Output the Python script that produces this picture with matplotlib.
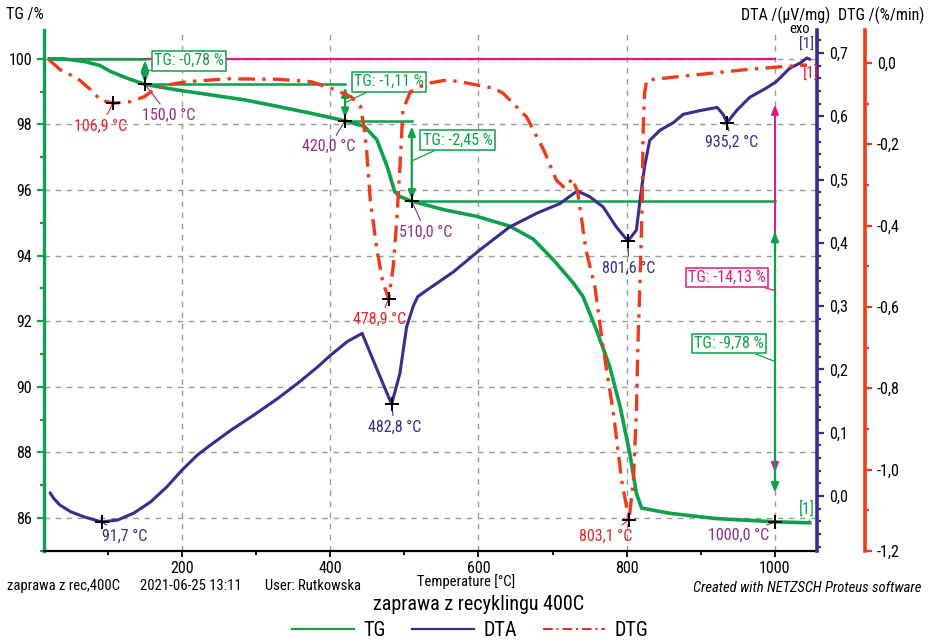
import numpy as np
import matplotlib
matplotlib.use("Agg")
import matplotlib.pyplot as plt
from matplotlib import font_manager
from matplotlib.ticker import MultipleLocator, FuncFormatter
from matplotlib.lines import Line2D

# ---------------- measured curves ----------------
tg_temp = [21, 40, 68, 89, 104, 126, 150, 194, 239, 284, 329, 374, 420, 446,
           463, 477, 487, 494, 510, 553, 597, 642, 674, 701, 728, 741, 759, 777,
           791, 804, 813, 820, 858, 920, 1000, 1047]
tg_mass = [100.0, 100.0, 99.92, 99.8, 99.61, 99.41, 99.22, 99.05, 98.9, 98.75,
           98.55, 98.34, 98.11, 97.94, 97.53, 96.7, 95.95, 95.8, 95.66, 95.4,
           95.2, 94.9, 94.5, 93.87, 93.16, 92.75, 91.74, 90.62, 89.4, 87.98,
           86.75, 86.3, 86.14, 85.98, 85.88, 85.85]

dta_temp = [22, 27, 35, 50, 68, 91.7, 113, 135, 158, 180, 200, 221, 239, 266,
            297, 329, 356, 383, 401, 423, 443, 456, 471, 482.8, 494, 503, 512,
            518, 530, 566, 602, 642, 679, 710, 733, 750, 768, 786, 801.6, 813,
            818, 824, 831, 845, 863, 876, 899, 922, 930, 935.2, 949, 966, 989,
            1002, 1020, 1034, 1043, 1047]
dta_signal = [0.005, -0.004, -0.014, -0.025, -0.033, -0.041, -0.038, -0.027,
              -0.009, 0.015, 0.041, 0.065, 0.081, 0.104, 0.128, 0.154, 0.178,
              0.204, 0.223, 0.244, 0.257, 0.22, 0.178, 0.145, 0.194, 0.267, 0.30,
              0.315, 0.325, 0.354, 0.389, 0.425, 0.447, 0.462, 0.482, 0.473,
              0.457, 0.425, 0.403, 0.42, 0.468, 0.52, 0.562, 0.578, 0.59, 0.603,
              0.609, 0.614, 0.603, 0.59, 0.61, 0.63, 0.645, 0.655, 0.676, 0.684,
              0.692, 0.69]

dtg_temp = [21, 36, 59, 77, 90, 106.9, 131, 149, 162, 180, 207, 261, 329, 374,
            401, 428, 441, 446, 449, 454, 463, 471, 478.9, 485, 490, 494, 498,
            508, 531, 557, 575, 620, 633, 665, 688, 705, 716, 727, 734, 745, 757,
            768, 782, 793, 803.1, 809, 813, 815, 818, 821, 822, 824, 827, 889,
            957, 1003, 1043]
dtg_rate = [0.007, -0.017, -0.038, -0.066, -0.091, -0.099, -0.095, -0.083,
            -0.066, -0.054, -0.046, -0.039, -0.04, -0.046, -0.062, -0.083, -0.107,
            -0.165, -0.214, -0.337, -0.46, -0.54, -0.58, -0.50, -0.379, -0.256,
            -0.116, -0.071, -0.05, -0.042, -0.046, -0.062, -0.074, -0.133, -0.214,
            -0.288, -0.307, -0.284, -0.32, -0.46, -0.55, -0.698, -0.861, -1.025,
            -1.124, -1.025, -0.861, -0.698, -0.53, -0.337, -0.172, -0.074, -0.042,
            -0.03, -0.017, -0.01, -0.005]

# mass-loss evaluation
tg_start = 100.0
step_temps = [150.0, 420.0, 510.0, 1000.0]
step_losses = [-0.78, -1.11, -2.45, -9.78]
total_loss = -14.13

# peak evaluation
dta_peaks = [91.7, 482.8, 801.6, 935.2]
dtg_peaks = [106.9, 478.9, 803.1]

# ---------------- style ----------------
GREEN = "#10A04C"
BLUE = "#3D2B8F"
RED = "#EE3B1D"
RED_TXT = "#E4232C"
MAGENTA = "#E0197F"
PURPLE = "#8C2D8C"

installed = {f.name for f in font_manager.fontManager.ttflist}
FONT = "DejaVu Sans"
for cand in ["Roboto Condensed", "Liberation Sans Narrow", "Roboto"]:
    if cand in installed:
        FONT = cand
        break
plt.rcParams["font.family"] = [FONT, "DejaVu Sans"]

W, H = 932, 642
fig = plt.figure(figsize=(W / 100, H / 100), dpi=100)


def fx(px):
    return px / W


def fy(py):
    return 1 - py / H


L, R, T, B = 44, 817, 30, 551
ax = fig.add_axes([fx(L), fy(B), (R - L) / W, (B - T) / H])
ax.set_xlim(13.8, 1056.7)
ax.set_ylim(84.99, 100.88)

comma = FuncFormatter(lambda v, p: f"{v:.1f}".replace(".", ",").replace("-0,0", "0,0"))

# grid
ax.set_xticks([200, 400, 600, 800, 1000])
ax.xaxis.set_minor_locator(MultipleLocator(100))
ax.set_yticks(np.arange(86, 101, 2))
ax.yaxis.set_minor_locator(MultipleLocator(1))
ax.grid(True, which="major", color="#9a9a9a", ls=(0, (4, 4)), lw=1.0)
ax.set_axisbelow(True)

for s in ["top", "right"]:
    ax.spines[s].set_visible(False)
ax.spines["left"].set_color(GREEN)
ax.spines["left"].set_linewidth(2.4)
ax.spines["bottom"].set_color("black")
ax.spines["bottom"].set_linewidth(1.6)
ax.tick_params(axis="y", which="both", colors=GREEN, labelcolor="black",
               labelsize=11.5, direction="out", width=1.6)
ax.tick_params(axis="y", which="major", length=5)
ax.tick_params(axis="y", which="minor", length=3)
ax.tick_params(axis="x", which="both", direction="out", width=1.3, labelsize=11.5)
ax.tick_params(axis="x", which="major", length=4, pad=3)
ax.tick_params(axis="x", which="minor", length=3)

# DTA axis
ax_dta = ax.twinx()
ax_dta.set_ylim(-0.0869, 0.7363)
ax_dta.yaxis.set_major_locator(MultipleLocator(0.1))
ax_dta.yaxis.set_minor_locator(MultipleLocator(0.02))
ax_dta.yaxis.set_major_formatter(comma)
for s in ["top", "left", "bottom"]:
    ax_dta.spines[s].set_visible(False)
ax_dta.spines["right"].set_color(BLUE)
ax_dta.spines["right"].set_linewidth(2.6)
ax_dta.tick_params(axis="y", which="both", colors=BLUE, labelcolor="black",
                   labelsize=11.5, width=1.6)
ax_dta.tick_params(axis="y", which="major", length=5)
ax_dta.tick_params(axis="y", which="minor", length=3)

# DTG axis
ax_dtg = ax.twinx()
ax_dtg.spines["right"].set_position(("axes", (865 - L) / (R - L)))
ax_dtg.set_ylim(-1.2, 0.0811)
ax_dtg.yaxis.set_major_locator(MultipleLocator(0.2))
ax_dtg.yaxis.set_minor_locator(MultipleLocator(0.1))
ax_dtg.yaxis.set_major_formatter(comma)
for s in ["top", "left", "bottom"]:
    ax_dtg.spines[s].set_visible(False)
ax_dtg.spines["right"].set_color(RED)
ax_dtg.spines["right"].set_linewidth(2.6)
ax_dtg.tick_params(axis="y", which="both", colors=RED, labelcolor="black",
                   labelsize=11.5, width=1.6)
ax_dtg.tick_params(axis="y", which="major", length=5)
ax_dtg.tick_params(axis="y", which="minor", length=3)

# ---------------- curves ----------------
ax_dta.plot(dta_temp, dta_signal, color=BLUE, lw=2.2, solid_capstyle="round",
            solid_joinstyle="round", zorder=3)
ax.plot(tg_temp, tg_mass, color=GREEN, lw=2.6, solid_joinstyle="round", zorder=3)
ax_dtg.plot(dtg_temp, dtg_rate, color=RED, lw=2.4, ls=(0, (5, 2.2, 1, 2.2)),
            zorder=4)

# ---------------- mass-loss steps ----------------
levels = [tg_start]
for d in step_losses:
    levels.append(round(levels[-1] + d, 2))

ax.plot([tg_temp[0], step_temps[-1]], [tg_start, tg_start], color=MAGENTA,
        lw=1.6, zorder=2)
starts = [tg_temp[0]] + step_temps[:-1]
for i, t in enumerate(step_temps):
    # level before the step, reaching over to the evaluation temperature
    ax.plot([starts[i], t], [levels[i], levels[i]], color=GREEN, lw=1.8, zorder=2.5)

shrinks = [(1, 1), (2, 2), (4, 1), (22, 21)]
box_offsets = [(44, 11), (44, 21), (46, 21), (-46, 18)]
for i, t in enumerate(step_temps):
    sa, sb = shrinks[i]
    ax.annotate("", xy=(t, levels[i + 1]), xytext=(t, levels[i]),
                arrowprops=dict(arrowstyle="<|-|>,head_length=0.55,head_width=0.22",
                                color=GREEN, lw=1.6, shrinkA=sa, shrinkB=sb),
                zorder=4)
    mid = (levels[i] + levels[i + 1]) / 2
    ax.annotate(f"TG: {step_losses[i]:.2f} %".replace(".", ","), xy=(t, mid),
                xytext=box_offsets[i], textcoords="offset pixels",
                ha="center", va="center", color=GREEN, fontsize=11.5,
                bbox=dict(boxstyle="square,pad=0.15", fc="white", ec=GREEN, lw=1.1),
                arrowprops=dict(arrowstyle="-", color=GREEN, lw=0.9,
                                shrinkA=0, shrinkB=0), zorder=6)

# total loss
t_end = step_temps[-1]
ax.annotate("", xy=(t_end, tg_start + total_loss), xytext=(t_end, tg_start),
            arrowprops=dict(arrowstyle="<|-|>,head_length=0.55,head_width=0.22",
                            color=MAGENTA, lw=1.4, shrinkA=33, shrinkB=36),
            zorder=3.5)
ax.annotate(f"TG: {total_loss:.2f} %".replace(".", ","),
            xy=(t_end, tg_start + total_loss / 2), xytext=(-48, 13),
            textcoords="offset pixels", ha="center", va="center", color=MAGENTA,
            fontsize=11.5,
            bbox=dict(boxstyle="square,pad=0.15", fc="white", ec=MAGENTA, lw=1.1),
            arrowprops=dict(arrowstyle="-", color=MAGENTA, lw=0.9,
                            shrinkA=0, shrinkB=0), zorder=6)

cross = dict(marker="+", ms=10, mew=1.4, color="black", ls="none", zorder=7)
step_label_offsets = [(24, -31), (-16, -26), (14, -31), (-36, -14)]
for i, t in enumerate(step_temps):
    ax.plot([t], [levels[i + 1]], **cross)
    ax.annotate(f"{t:.1f} °C".replace(".", ","), xy=(t, levels[i + 1]),
                xytext=step_label_offsets[i], textcoords="offset pixels",
                ha="center", va="center", color=PURPLE, fontsize=11.5,
                arrowprops=dict(arrowstyle="-", color=PURPLE, lw=0.8,
                                shrinkA=1, shrinkB=0), zorder=6)

# ---------------- peaks ----------------
dta_offsets = [(23, -14), (3, -23), (1, -27), (5, -20)]
for t, off in zip(dta_peaks, dta_offsets):
    yv = np.interp(t, dta_temp, dta_signal)
    ax_dta.plot([t], [yv], **cross)
    ax_dta.annotate(f"{t:.1f} °C".replace(".", ","), xy=(t, yv), xytext=off,
                    textcoords="offset pixels", ha="center", va="center",
                    color=BLUE, fontsize=11.5,
                    arrowprops=dict(arrowstyle="-", color=BLUE, lw=0.8,
                                    shrinkA=1, shrinkB=0), zorder=6)

dtg_offsets = [(-12, -23), (-9, -20), (-23, -16)]
for t, off in zip(dtg_peaks, dtg_offsets):
    yv = np.interp(t, dtg_temp, dtg_rate)
    ax_dtg.plot([t], [yv], **cross)
    ax_dtg.annotate(f"{t:.1f} °C".replace(".", ","), xy=(t, yv), xytext=off,
                    textcoords="offset pixels", ha="center", va="center",
                    color=RED_TXT, fontsize=11.5,
                    arrowprops=dict(arrowstyle="-", color=RED_TXT, lw=0.8,
                                    shrinkA=1, shrinkB=0), zorder=6)

# curve identifiers
ax.annotate("[1]", xy=(tg_temp[-1], tg_mass[-1]), xytext=(-3, 14),
            textcoords="offset pixels", ha="center", va="center", color=GREEN,
            fontsize=11.5, arrowprops=dict(arrowstyle="-", color=GREEN, lw=0.8,
                                           shrinkA=0, shrinkB=0))
ax_dta.annotate("[1]", xy=(dta_temp[-1], dta_signal[-1]), xytext=(-3, 14),
                textcoords="offset pixels", ha="center", va="center", color=BLUE,
                fontsize=11)
ax_dtg.annotate("[1]", xy=(dtg_temp[-1], dtg_rate[-1]), xytext=(4, -8),
                textcoords="offset pixels", ha="center", va="center", color=RED_TXT,
                fontsize=11.5)

# ---------------- texts ----------------
fig.text(fx(6), fy(15), "TG /%", ha="left", va="center", fontsize=11.5)
fig.text(fx(830), fy(15), "DTA /(µV/mg)", ha="right", va="center", fontsize=11.5)
fig.text(fx(924), fy(15), "DTG /(%/min)", ha="right", va="center", fontsize=11.5)
fig.text(fx(800), fy(29), "exo", ha="center", va="center", fontsize=10.5)

fig.text(fx(466), fy(582), "Temperature [°C]", ha="center", va="center",
         fontsize=10.5)
fig.text(fx(7), fy(586), "zaprawa z rec,400C", ha="left", va="center",
         fontsize=10.5)
fig.text(fx(140), fy(586), "2021-06-25 13:11", ha="left", va="center",
         fontsize=10.5)
fig.text(fx(265), fy(586), "User: Rutkowska", ha="left", va="center",
         fontsize=10.5)
fig.text(fx(921), fy(588), "Created with NETZSCH Proteus software", ha="right",
         va="center", fontsize=10.5, style="italic")
fig.text(fx(479), fy(604), "zaprawa z recyklingu 400C", ha="center", va="center",
         fontsize=14.5)

handles = [Line2D([], [], color=GREEN, lw=1.6),
           Line2D([], [], color=BLUE, lw=1.6),
           Line2D([], [], color=RED_TXT, lw=1.4, ls=(0, (5, 2, 1, 2)))]
fig.legend(handles, ["TG", "DTA", "DTG"], loc="center",
           bbox_to_anchor=(fx(470), fy(631)), ncol=3, frameon=False,
           fontsize=14.5, handlelength=3.1, handletextpad=0.45, columnspacing=1.3,
           borderpad=0, borderaxespad=0)

fig.savefig("out.png", dpi=100)
